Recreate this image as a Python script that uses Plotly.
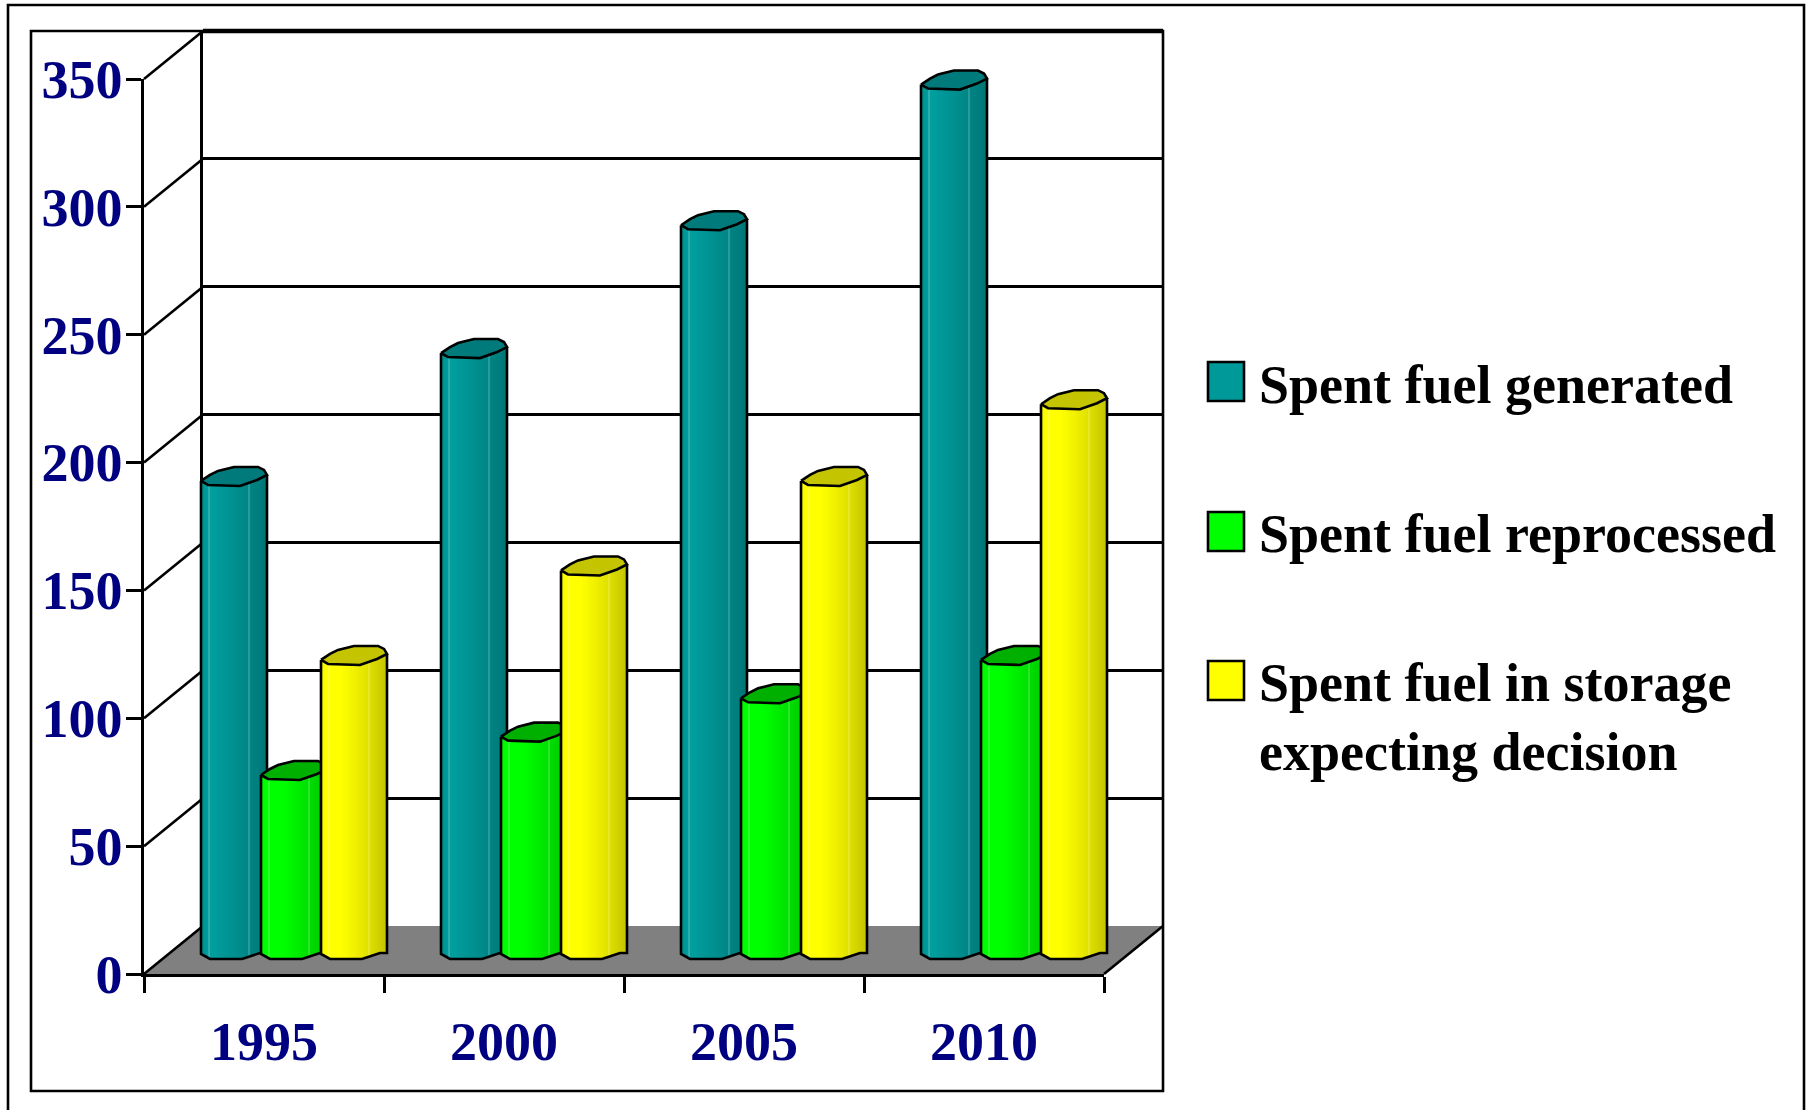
import numpy as np
import plotly.graph_objects as go

years = ["1995", "2000", "2005", "2010"]
series_names = ["Spent fuel generated", "Spent fuel reprocessed", "Spent fuel in storage"]
generated = [185, 235, 285, 340]
reprocessed = [70, 85, 100, 115]
in_storage = [115, 150, 185, 215]
y_ticks = [0, 50, 100, 150, 200, 250, 300, 350]
legend_lines = [["Spent fuel generated"], ["Spent fuel reprocessed"],
                ["Spent fuel in storage", "expecting decision"]]

W, H = 1806, 1110
NAVY = "#000080"
FONT = "Liberation Serif"
LW = 2.6
base_rgb = [(0, 152, 152), (0, 255, 0), (255, 255, 0)]
cap_colors = ["#007a7a", "#00b000", "#c4c400"]
swatch_colors = ["#009999", "#00ff00", "#ffff00"]
all_values = [generated, reprocessed, in_storage]

# plane geometry in pixels
FX0, FX1, FY0, FY350 = 144, 1104, 974, 79
PXX = (FX1 - FX0) / 4
PXY = (FY0 - FY350) / 350
BACK_DX, BACK_DY = 59, 48
MID_DX, MID_DY = 30, 25
PITCH, HALF = 60 / PXX, 33


def dom_x(dx):
    return [(FX0 + dx) / W, (FX1 + dx) / W]


def dom_y(dy):
    return [1 - (FY0 - dy) / H, 1 - (FY350 - dy) / H]


def wide_x(dx):
    # range that maps the whole page width, so that nothing is clipped
    return [-0.5 - (FX0 + dx) / PXX, -0.5 + (W - FX0 - dx) / PXX]


def wide_y(dy):
    return [-(H - FY0 + dy) / PXY, (FY0 - dy) / PXY]


xr = [-0.5, 3.5]
yr = [0, 350]
fig = go.Figure()

# floor
ddx, ddy = BACK_DX / PXX, BACK_DY / PXY
fig.add_trace(go.Scatter(x=[xr[0], xr[1], xr[1] + ddx, xr[0] + ddx, xr[0]],
                         y=[0, 0, ddy, ddy, 0], mode="none", fill="toself",
                         fillcolor="#808080", xaxis="x", yaxis="y"))
# side wall and floor diagonals
wx, wy = [], []
for t in y_ticks:
    wx += [xr[0], xr[0] + ddx, None]
    wy += [t, t + ddy, None]
wx += [xr[1], xr[1] + ddx, None]
wy += [0, ddy, None]
fig.add_trace(go.Scatter(x=wx, y=wy, mode="lines", line=dict(color="black", width=LW),
                         xaxis="x", yaxis="y"))
# thick top edge of the back wall
fig.add_trace(go.Scatter(x=[xr[0] + ddx, xr[1] + ddx], y=[350 + ddy, 350 + ddy], mode="lines",
                         line=dict(color="black", width=4.5), xaxis="x", yaxis="y"))
# back-wall axes carrier
fig.add_trace(go.Scatter(x=[None], y=[None], xaxis="x2", yaxis="y2"))

# bar shape, pixels around centre of a bar
strips = np.arange(-HALF, HALF, 2.0)
FRONT_U = [-33, -26, 6, 23, 33]
FRONT_V = [5, 9, 10, 4, -1]
BASE_U = [-33, -24, 8, 26, 33]
BASE_V = [5, 10, 10, 4, 4]
CAP_U = [-33, -24, -16, 0, 24, 30, 33, 23, 6, -26, -33]
CAP_V = [5, -1, -5, -9, -9, -6, -1, 4, 10, 9, 5]
SHADE_T = [0, 0.12, 0.4, 0.7, 0.85, 1]
SHADE_F = [0.96, 1.05, 0.97, 0.88, 0.82, 0.76]

for s, vals in enumerate(all_values):
    ax, ay = f"x{s + 3}", f"y{s + 3}"
    centres = [i + (s - 1) * PITCH for i in range(4)]
    for u in strips:
        t = (u + HALF) / (2 * HALF)
        f = float(np.interp(t, SHADE_T, SHADE_F))
        rgb = [min(255, int(round(c * f))) for c in base_rgb[s]]
        off = float(np.interp(u + 1, BASE_U, BASE_V))
        top_off = float(np.interp(u + 1, FRONT_U, FRONT_V))
        fig.add_trace(go.Bar(x=centres, y=[v - (top_off - off) / PXY for v in vals],
                             base=-off / PXY, width=2.6 / PXX, offset=u / PXX,
                             marker=dict(color=f"rgb({rgb[0]},{rgb[1]},{rgb[2]})", line=dict(width=0)),
                             xaxis=ax, yaxis=ay))
    # pale facet lines
    lx, ly = [], []
    for c, v in zip(centres, vals):
        for u in (-25, 15):
            b = float(np.interp(u, BASE_U, BASE_V))
            o = float(np.interp(u, FRONT_U, FRONT_V))
            lx += [c + u / PXX, c + u / PXX, None]
            ly += [-b / PXY, v - o / PXY, None]
    fig.add_trace(go.Scatter(x=lx, y=ly, mode="lines",
                             line=dict(color="rgba(255,255,255,0.35)", width=1),
                             xaxis=ax, yaxis=ay))
    # outline of body
    ox, oy = [], []
    for c, v in zip(centres, vals):
        ox += [c - HALF / PXX] + [c + u / PXX for u in BASE_U] + [c + HALF / PXX, None]
        oy += [v - FRONT_V[0] / PXY] + [-b / PXY for b in BASE_V] + [v - FRONT_V[-1] / PXY, None]
    fig.add_trace(go.Scatter(x=ox, y=oy, mode="lines", line=dict(color="black", width=LW),
                             xaxis=ax, yaxis=ay))
    # top cap
    cx, cy = [], []
    for c, v in zip(centres, vals):
        cx += [c + u / PXX for u in CAP_U] + [None]
        cy += [v - o / PXY for o in CAP_V] + [None]
    fig.add_trace(go.Scatter(x=cx, y=cy, mode="lines", fill="toself", fillcolor=cap_colors[s],
                             line=dict(color="black", width=LW), xaxis=ax, yaxis=ay))

# front axes carrier, on top
fig.add_trace(go.Scatter(x=[None], y=[None], xaxis="x6", yaxis="y6"))

hidden = dict(visible=False, fixedrange=True, automargin=False)
layout_axes = {
    "xaxis": dict(domain=[0, 1], range=wide_x(0), anchor="y", **hidden),
    "yaxis": dict(domain=[0, 1], range=wide_y(0), anchor="x", **hidden),
    "xaxis2": dict(domain=dom_x(BACK_DX), range=xr, anchor="y2", **hidden),
    "yaxis2": dict(domain=dom_y(BACK_DY), range=yr, anchor="x2", showgrid=True, gridcolor="black",
                   gridwidth=LW, zeroline=False, showline=True, linecolor="black", linewidth=LW,
                   tickmode="array", tickvals=y_ticks, showticklabels=False, ticks="", automargin=False),
    "xaxis6": dict(domain=dom_x(0), range=xr, anchor="y6", showgrid=False, zeroline=False,
                   showline=True, linecolor="black", linewidth=3.2, automargin=False,
                   tickmode="array", tickvals=[0, 1, 2, 3], ticktext=years, ticks="",
                   ticklabelstandoff=18,
                   tickfont=dict(family=FONT, size=54, color=NAVY, weight="bold"),
                   minor=dict(tickmode="array", tickvals=[-0.5, 0.5, 1.5, 2.5, 3.5], ticks="outside",
                              ticklen=16, tickwidth=LW, tickcolor="black", showgrid=False)),
    "yaxis6": dict(domain=dom_y(0), range=yr, anchor="x6", showgrid=False, zeroline=False,
                   showline=True, linecolor="black", linewidth=LW, automargin=False,
                   tickmode="array", tickvals=y_ticks, ticks="outside", ticklen=15,
                   tickwidth=LW, tickcolor="black", ticklabelstandoff=-7,
                   tickfont=dict(family=FONT, size=54, color=NAVY, weight="bold")),
}
for s in range(3):
    layout_axes[f"xaxis{s + 3}"] = dict(domain=[0, 1], range=wide_x(MID_DX), anchor=f"y{s + 3}", **hidden)
    layout_axes[f"yaxis{s + 3}"] = dict(domain=[0, 1], range=wide_y(MID_DY), anchor=f"x{s + 3}", **hidden)

shapes = [
    dict(type="rect", xref="paper", yref="paper", x0=8 / W, x1=1804 / W, y0=-0.02, y1=1 - 5 / H,
         line=dict(color="black", width=LW), layer="below"),
    dict(type="rect", xref="paper", yref="paper", x0=31 / W, x1=1163 / W, y0=1 - 1091 / H, y1=1 - 31 / H,
         line=dict(color="black", width=LW), layer="below"),
]
annotations = []
swatch_tops = [362, 512, 661]
baselines = [[403], [552], [701, 770]]
for s, lines in enumerate(legend_lines):
    top = swatch_tops[s]
    shapes.append(dict(type="rect", xref="paper", yref="paper", x0=1208 / W, x1=1244 / W,
                       y0=1 - (top + 39) / H, y1=1 - top / H,
                       fillcolor=swatch_colors[s], line=dict(color="black", width=LW)))
    for text, base in zip(lines, baselines[s]):
        annotations.append(dict(text=text, xref="paper", yref="paper", x=1258 / W, y=1 - (base + 13) / H,
                                xanchor="left", yanchor="bottom", showarrow=False, borderpad=0,
                                font=dict(family=FONT, size=54, color="black", weight="bold")))

fig.update_layout(width=W, height=H, margin=dict(l=0, r=0, t=0, b=0, pad=0, autoexpand=False), showlegend=False,
                  barmode="overlay", paper_bgcolor="white", plot_bgcolor="rgba(0,0,0,0)",
                  shapes=shapes, annotations=annotations, hovermode=False, **layout_axes)

fig.write_html("out.html", config=dict(displayModeBar=False),
               post_script="document.body.style.margin='0';document.body.style.overflow='hidden';")
